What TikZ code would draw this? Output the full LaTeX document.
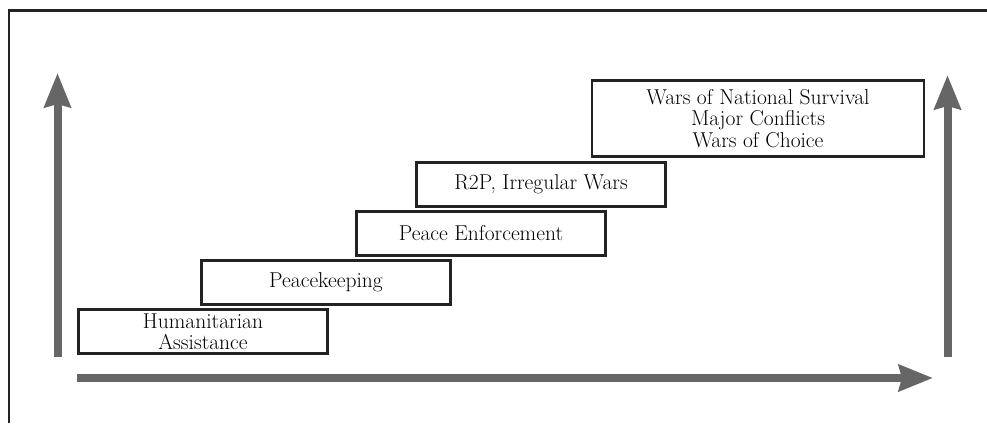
\documentclass[tikz,border=0pt]{standalone}
\usepackage{tkz-euclide}
\usetikzlibrary{arrows.meta}

\definecolor{axisgray}{RGB}{102,102,102}
\definecolor{framegray}{RGB}{35,35,35}

\tikzset{
  stairbox/.style={draw=framegray, line width=2.2pt, rectangle, inner sep=0pt,
    minimum width=249pt, minimum height=44pt, align=center,
    font=\fontsize{21.5}{21.5}\selectfont},
  axisarrow/.style={draw=axisgray, line width=8pt,
    -{Stealth[length=34pt, width=26pt, inset=3pt, fill=axisgray]}}
}

\begin{document}
\begin{tikzpicture}[x=1pt,y=1pt]
	\useasboundingbox (0,0) rectangle (987,423);
	% frame, open at the right and at the bottom
	\draw[framegray, line width=2.8pt] (9,0) -- (9,412.5) -- (987,412.5);

	\tkzDefPoint(57.5,66){LB}
	\tkzDefPoint(57.5,350){LT}
	\tkzDefPoint(947.5,66){RB}
	\tkzDefPoint(947.5,348){RT}
	\tkzDefPoint(77,45){HL}
	\tkzDefPoint(933,45){HR}

	\draw[axisarrow] (LB) -- (LT);
	\draw[axisarrow] (RB) -- (RT);
	\draw[axisarrow] (HL) -- (HR);

	% the steps
	\node[stairbox] (hum) at (203,91.5) {Humanitarian\\Assistance};
	\node[stairbox] (keep) at (326,140.5) {Peacekeeping};
	\node[stairbox] (enf) at (481,189.5) {Peace Enforcement};
	\node[stairbox] (rtp) at (541,238.5) {R2P, Irregular Wars};
	\node[stairbox, minimum width=332pt, minimum height=76pt] (wars) at (758,304.5)
		{Wars of National Survival\\Major Conflicts\\Wars of Choice};
\end{tikzpicture}
\end{document}
